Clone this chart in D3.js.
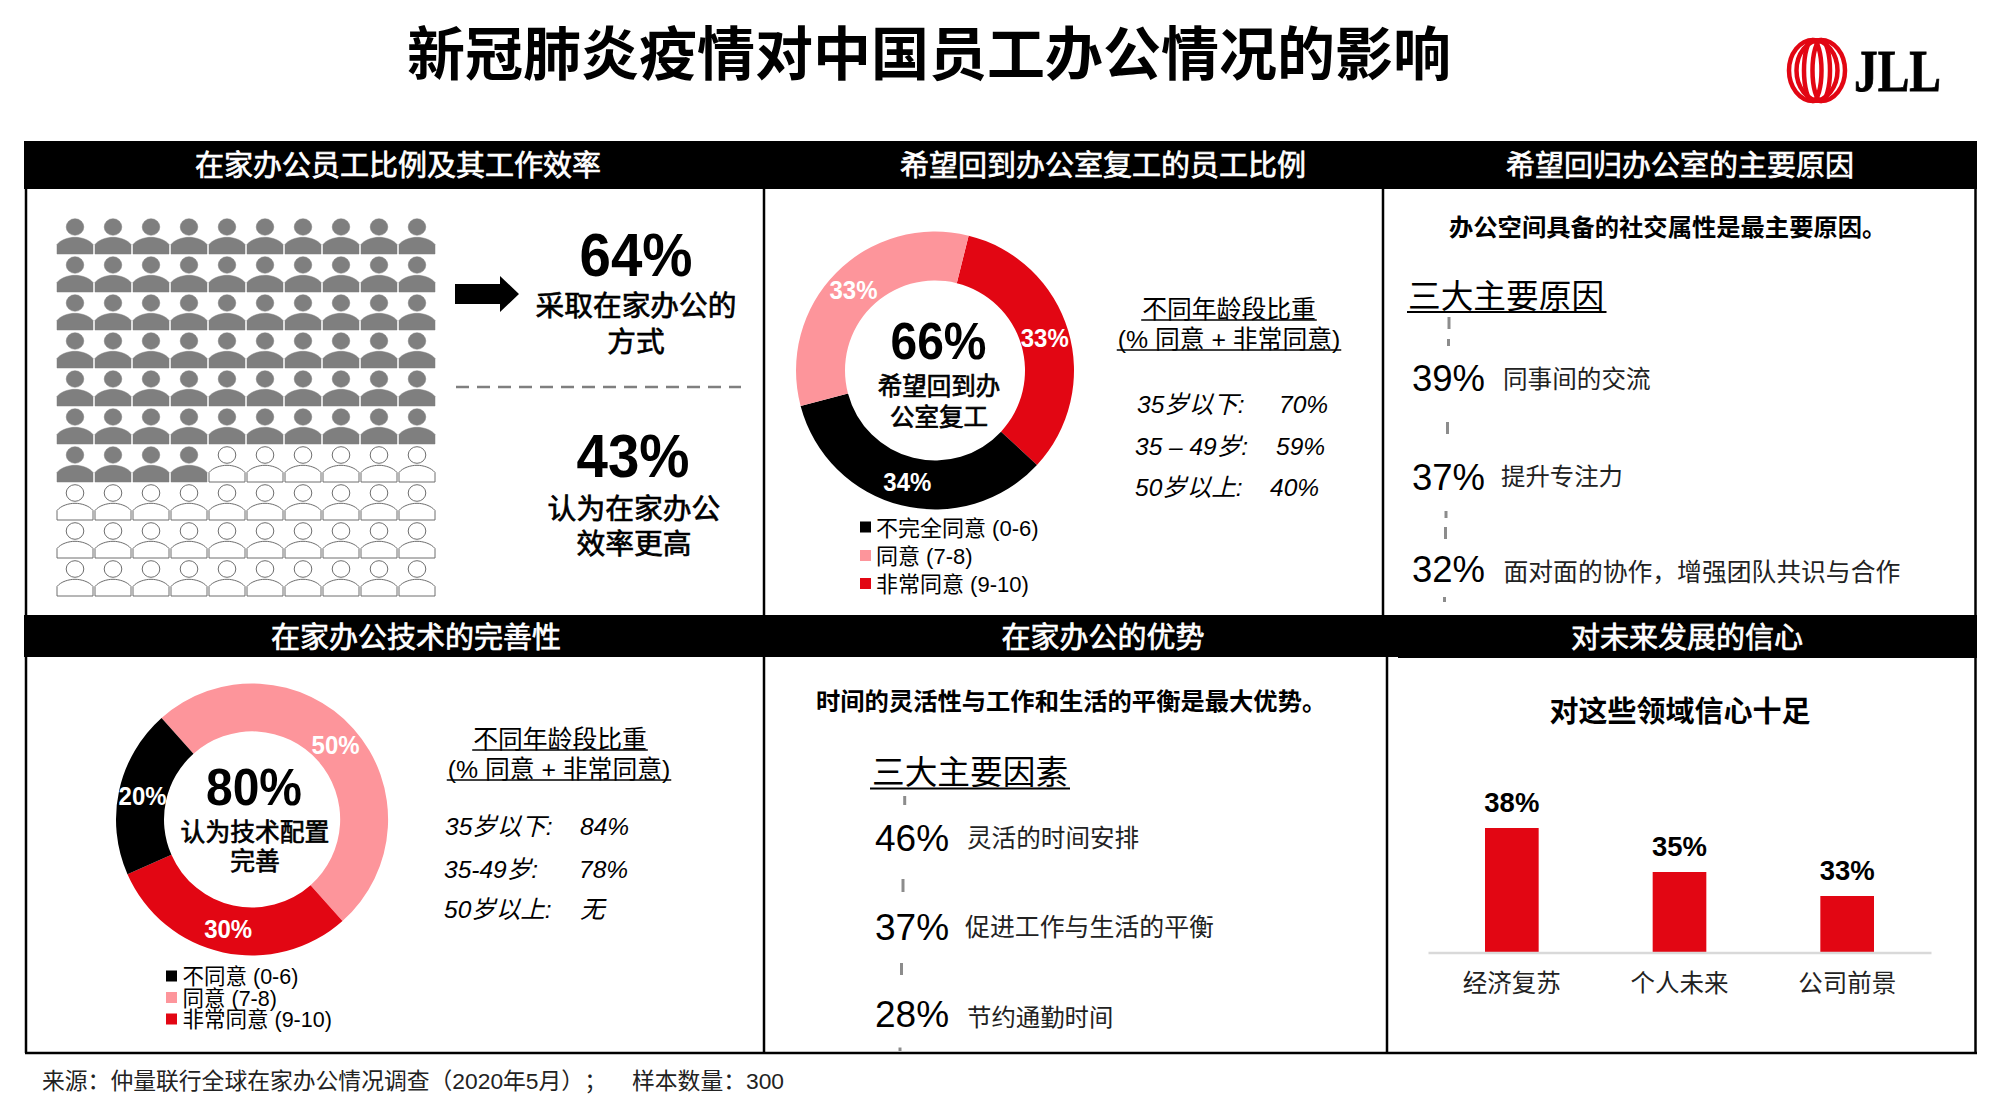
<!DOCTYPE html>
<html>
<head>
<meta charset="utf-8">
<script src="https://cdn.jsdelivr.net/npm/d3@7"></script>
<style>
  html, body { margin: 0; padding: 0; background: #fff; }
  svg { display: block; }
  text { font-family: "Liberation Sans", "Noto Sans CJK SC", sans-serif; fill: #000; text-spacing-trim: space-all; }
</style>
</head>
<body>
<div id="app"></div>
<script>
const RED = '#e20613';
const PINK = '#fd959b';
const BLACK = '#000000';

// people grid
const homeWorkPct = 64;

// return-to-office donut
const returnLabels = ['非常同意 (9-10)', '不完全同意 (0-6)', '同意 (7-8)'];
const returnValues = [33, 34, 33];
const returnColors = [RED, BLACK, PINK];
const returnLegend = [1, 2, 0];
const returnAges = ['35岁以下:', '35 – 49岁:', '50岁以上:'];
const returnAgeValues = ['70%', '59%', '40%'];

// technology donut
const techLabels = ['同意 (7-8)', '非常同意 (9-10)', '不同意 (0-6)'];
const techValues = [50, 30, 20];
const techColors = [PINK, RED, BLACK];
const techLegend = [2, 0, 1];
const techAges = ['35岁以下:', '35-49岁:', '50岁以上:'];
const techAgeValues = ['84%', '78%', '无'];

// top three lists
const reasonPcts = ['39%', '37%', '32%'];
const reasonTexts = ['同事间的交流', '提升专注力', '面对面的协作，增强团队共识与合作'];
const benefitPcts = ['46%', '37%', '28%'];
const benefitTexts = ['灵活的时间安排', '促进工作与生活的平衡', '节约通勤时间'];

// confidence bars (unrounded values)
const confidenceCategories = ['经济复苏', '个人未来', '公司前景'];
const confidenceValues = [38.3, 35.0, 33.2];

const svg = d3.select('#app')
  .append('svg')
  .attr('width', 1993)
  .attr('height', 1103);

function put(x, y, str, size, opts) {
  const o = opts || {};
  const central = !o.base;
  const t = svg.append('text')
    .attr('x', x)
    .attr('y', central ? y + 1 : y)
    .attr('text-anchor', o.anchor || 'middle')
    .attr('dominant-baseline', o.base || 'central')
    .attr('font-size', size)
    .attr('font-weight', o.weight === 700 ? 700 : 400)
    .attr('font-style', o.italic ? 'italic' : 'normal')
    .style('fill', o.fill || '#000')
    .text(str);
  // no medium cut of the CJK font, so thicken the regular one a little
  if (o.weight === 500) {
    t.style('stroke', o.fill || '#000').style('stroke-width', 0.7);
  }
  if (o.length) {
    t.attr('textLength', o.length).attr('lengthAdjust', 'spacingAndGlyphs');
  }
  return t;
}

function hline(x1, x2, y, color, width) {
  svg.append('line')
    .attr('x1', x1).attr('x2', x2)
    .attr('y1', y).attr('y2', y)
    .attr('stroke', color)
    .attr('stroke-width', width);
}

function vline(x, y1, y2, color, width) {
  svg.append('line')
    .attr('x1', x).attr('x2', x)
    .attr('y1', y1).attr('y2', y2)
    .attr('stroke', color)
    .attr('stroke-width', width);
}

// title
put(929, 53, '新冠肺炎疫情对中国员工办公情况的影响', 58, { weight: 700 });

// frame
vline(26, 189, 1053, '#000', 2.5);
vline(764, 189, 1053, '#000', 2.5);
vline(1383, 189, 615, '#000', 2.5);
vline(1387, 657, 1053, '#000', 2.5);
vline(1975.5, 189, 1053, '#000', 2.5);
hline(25, 1977, 1053, '#000', 2.5);

// black header bands
svg.append('rect').attr('x', 24).attr('y', 141).attr('width', 1953).attr('height', 48).attr('fill', '#000');
svg.append('rect').attr('x', 24).attr('y', 615).attr('width', 1953).attr('height', 42).attr('fill', '#000');
svg.append('rect').attr('x', 1398).attr('y', 657).attr('width', 579).attr('height', 1).attr('fill', '#000');

put(398, 165, '在家办公员工比例及其工作效率', 29, { fill: '#fff', weight: 500 });
put(1103, 165, '希望回到办公室复工的员工比例', 29, { fill: '#fff', weight: 500 });
put(1680, 165, '希望回归办公室的主要原因', 29, { fill: '#fff', weight: 500 });
put(416, 637, '在家办公技术的完善性', 29, { fill: '#fff', weight: 500 });
put(1103, 637, '在家办公的优势', 29, { fill: '#fff', weight: 500 });
put(1687, 637, '对未来发展的信心', 29, { fill: '#fff', weight: 500 });

// people grid, one icon per percent
const colX = d3.scalePoint().domain(d3.range(10)).range([75, 417]);
const rowY = d3.scalePoint().domain(d3.range(10)).range([254, 596]);

const people = svg.append('g')
  .selectAll('g')
  .data(d3.range(100))
  .join('g')
  .attr('transform', d => `translate(${colX(d % 10)},${rowY(Math.floor(d / 10))})`)
  .attr('fill', d => d < homeWorkPct ? '#7f7f7f' : '#fff')
  .attr('stroke', d => d < homeWorkPct ? '#7f7f7f' : '#6e6e6e')
  .attr('stroke-width', d => d < homeWorkPct ? 0.5 : 1);

people.append('ellipse')
  .attr('cy', -27)
  .attr('rx', 8.8)
  .attr('ry', 8.3);

people.append('path')
  .attr('d', 'M-18,0 V-9.5 C-14,-14.5 -6,-16.7 0,-16.7 C6,-16.7 14,-14.5 18,-9.5 V0 Z');

// arrow
svg.append('path')
  .attr('d', d3.line()([[455, 284], [500, 284], [500, 276], [519, 294], [500, 312], [500, 304], [455, 304]]) + 'Z')
  .attr('fill', '#000');

put(636, 276, homeWorkPct + '%', 62, { weight: 700, base: 'auto', length: 113 });
put(636, 305, '采取在家办公的', 28.7, { weight: 500 });
put(636, 341, '方式', 28.7, { weight: 500 });

svg.append('line')
  .attr('x1', 456).attr('x2', 741)
  .attr('y1', 387).attr('y2', 387)
  .attr('stroke', '#7f7f7f')
  .attr('stroke-width', 2.5)
  .attr('stroke-dasharray', '13 8');

put(633, 477, '43%', 62, { weight: 700, base: 'auto', length: 113 });
put(634, 508, '认为在家办公', 28.8, { weight: 500 });
put(634, 543, '效率更高', 28.8, { weight: 500 });

// donuts
function donut(cx, cy, inner, outer, startDeg, values, colors) {
  const start = startDeg * Math.PI / 180;
  const pie = d3.pie().sort(null).startAngle(start).endAngle(start + 2 * Math.PI);
  const arc = d3.arc().innerRadius(inner).outerRadius(outer);
  const g = svg.append('g').attr('transform', `translate(${cx},${cy})`);
  const slices = pie(values);

  g.selectAll('path')
    .data(slices)
    .join('path')
    .attr('d', arc)
    .attr('fill', (d, i) => colors[i]);

  g.selectAll('text')
    .data(slices)
    .join('text')
    .attr('transform', d => `translate(${arc.centroid(d)})`)
    .attr('text-anchor', 'middle')
    .attr('dominant-baseline', 'central')
    .attr('font-size', 25)
    .attr('font-weight', 700)
    .attr('textLength', 48)
    .attr('lengthAdjust', 'spacingAndGlyphs')
    .style('fill', '#fff')
    .text(d => d.value + '%');
}

function legend(x, textX, ys, size, order, labels, colors) {
  order.forEach((idx, i) => {
    svg.append('rect')
      .attr('x', x)
      .attr('y', ys[i] - 5.5)
      .attr('width', 11)
      .attr('height', 11)
      .attr('fill', colors[idx]);
    put(textX, ys[i], labels[idx], size, { anchor: 'start' });
  });
}

function underlined(x, y, str, size, lineY, lineW) {
  const t = put(x, y, str, size);
  const w = t.node().getComputedTextLength();
  hline(x - w / 2 - 1, x + w / 2 + 1, lineY, '#000', lineW);
}

donut(935, 370.5, 90, 139, 14, returnValues, returnColors);
put(938.5, 359, '66%', 51, { weight: 700, base: 'auto', length: 96 });
put(939, 385, '希望回到办', 24.5, { weight: 500 });
put(939, 416, '公室复工', 24.5, { weight: 500 });
legend(860, 876, [527, 555.5, 583.5], 22, returnLegend, returnLabels, returnColors);

underlined(1229, 308, '不同年龄段比重', 24.8, 320, 1.5);
underlined(1229, 338, '(% 同意 + 非常同意)', 24.8, 350, 1.5);

const returnRowY = [403, 445.5, 486];
const returnRowX = [1137, 1135, 1135];
const returnValX = [1279, 1276, 1270];
returnAges.forEach((a, i) => {
  put(returnRowX[i], returnRowY[i], a, 24.5, { anchor: 'start', italic: true });
  put(returnValX[i], returnRowY[i], returnAgeValues[i], 24.5, { anchor: 'start', italic: true });
});

donut(252, 819.5, 88, 136, -41.7, techValues, techColors);
put(254, 805, '80%', 51, { weight: 700, base: 'auto', length: 96 });
put(255, 831, '认为技术配置', 24.8, { weight: 500 });
put(255, 860.5, '完善', 24.8, { weight: 500 });
legend(166, 182.5, [976, 997.5, 1019], 21.5, techLegend, techLabels, techColors);

underlined(560, 738, '不同年龄段比重', 24.8, 750, 1.5);
underlined(559, 768, '(% 同意 + 非常同意)', 24.8, 780, 1.5);

const techRowY = [825, 868, 908];
const techRowX = [445, 444, 444];
const techValX = [580, 579, 580];
techAges.forEach((a, i) => {
  put(techRowX[i], techRowY[i], a, 24.5, { anchor: 'start', italic: true });
  put(techValX[i], techRowY[i], techAgeValues[i], 24.5, { anchor: 'start', italic: true });
});

// top three lists
function dashes(pieces) {
  pieces.forEach(p => {
    svg.append('line')
      .attr('x1', p[0]).attr('x2', p[0])
      .attr('y1', p[1]).attr('y2', p[2])
      .attr('stroke', '#8c8c8c')
      .attr('stroke-width', 3);
  });
}

put(1449, 226.5, '办公空间具备的社交属性是最主要原因。', 24.3, { anchor: 'start', weight: 700 });
put(1408, 295, '三大主要原因', 32.7, { anchor: 'start' });
hline(1407, 1606.5, 312, '#000', 2);
dashes([[1449, 317, 329], [1448.5, 339, 346], [1447.5, 422, 434], [1446, 511, 518], [1445.5, 527, 539], [1444.5, 597, 602]]);

const reasonBase = [391, 489.5, 582];
const reasonMid = [378.5, 475, 571];
const reasonX = [1503, 1501, 1503.5];
const reasonSize = [24.6, 24.4, 24.8];
reasonPcts.forEach((p, i) => {
  put(1412, reasonBase[i], p, 36.5, { anchor: 'start', base: 'auto' });
  put(reasonX[i], reasonMid[i], reasonTexts[i], reasonSize[i], { anchor: 'start', fill: '#222' });
});

put(816, 700.5, '时间的灵活性与工作和生活的平衡是最大优势。', 24.3, { anchor: 'start', weight: 700 });
put(872, 771, '三大主要因素', 32.7, { anchor: 'start' });
hline(870, 1070, 788.5, '#000', 2);
dashes([[904.7, 796, 805], [903, 879, 892], [901.5, 963, 975], [900, 1047.5, 1051]]);

const benefitBase = [850.5, 940, 1026.5];
const benefitMid = [837.5, 925.5, 1016];
const benefitX = [967, 965, 967];
const benefitSize = [24.6, 24.9, 24.4];
benefitPcts.forEach((p, i) => {
  put(875, benefitBase[i], p, 37, { anchor: 'start', base: 'auto' });
  put(benefitX[i], benefitMid[i], benefitTexts[i], benefitSize[i], { anchor: 'start', fill: '#222' });
});

// confidence bars
put(1680, 711, '对这些领域信心十足', 29, { weight: 700 });

const x = d3.scaleBand()
  .domain(confidenceCategories)
  .range([1428, 1931])
  .paddingInner(0.68)
  .paddingOuter(0.34);

const y = d3.scaleLinear()
  .domain([29, 38.3])
  .range([952, 828]);

svg.append('g')
  .selectAll('rect')
  .data(confidenceCategories)
  .join('rect')
  .attr('x', d => x(d))
  .attr('y', (d, i) => y(confidenceValues[i]))
  .attr('width', x.bandwidth())
  .attr('height', (d, i) => y.range()[0] - y(confidenceValues[i]))
  .attr('fill', RED);

svg.append('g')
  .selectAll('text')
  .data(confidenceCategories)
  .join('text')
  .attr('x', d => x(d) + x.bandwidth() / 2)
  .attr('y', (d, i) => y(confidenceValues[i]) - 16)
  .attr('text-anchor', 'middle')
  .attr('font-size', 28)
  .attr('font-weight', 700)
  .attr('textLength', 55)
  .attr('lengthAdjust', 'spacingAndGlyphs')
  .text((d, i) => Math.round(confidenceValues[i]) + '%');

const xAxis = svg.append('g')
  .attr('transform', 'translate(0,952.5)')
  .call(d3.axisBottom(x).tickSize(0).tickPadding(22));

xAxis.select('.domain')
  .attr('stroke', '#d9d9d9')
  .attr('stroke-width', 2.5);

xAxis.selectAll('text')
  .attr('font-size', 24.5)
  .attr('font-family', '"Liberation Sans", "Noto Sans CJK SC", sans-serif')
  .style('fill', '#222');

// source line
put(42, 1080, '来源：仲量联行全球在家办公情况调查（2020年5月）；', 22.8, { anchor: 'start', fill: '#222' });
put(632, 1080, '样本数量：300', 22.8, { anchor: 'start', fill: '#222' });

// logo
const logo = svg.append('g')
  .attr('transform', 'translate(1817,70.5)')
  .attr('fill', 'none')
  .attr('stroke', RED)
  .attr('stroke-width', 4.5);

[[-3.75, 24.25], [3.75, 24.25], [-4.25, 8.75], [4.25, 8.75]].forEach(r => {
  logo.append('ellipse')
    .attr('cx', r[0])
    .attr('rx', r[1])
    .attr('ry', 30.5);
});

svg.append('text')
  .attr('x', 1854)
  .attr('y', 91)
  .attr('font-size', 60)
  .attr('font-weight', 700)
  .attr('textLength', 87)
  .attr('lengthAdjust', 'spacingAndGlyphs')
  .style('font-family', '"Liberation Serif", serif')
  .style('stroke', '#000')
  .style('stroke-width', 0.8)
  .text('JLL');
</script>
</body>
</html>
